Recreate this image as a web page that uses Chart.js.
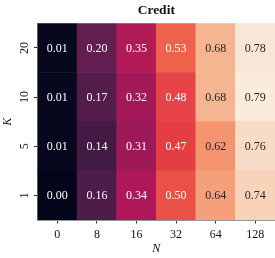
<!DOCTYPE html>
<html>
<head>
<meta charset="utf-8">
<script src="https://cdn.jsdelivr.net/npm/chart.js@4/dist/chart.umd.min.js"></script>
<style>
  html, body { margin: 0; padding: 0; background: #fff; }
  #wrap { width: 275px; height: 258px; }
</style>
</head>
<body>
<div id="wrap"><canvas id="myChart"></canvas></div>
<script>
// N on x, K on y (bottom row first)
const nLabels = ['0', '8', '16', '32', '64', '128'];
const kLabels = ['1', '5', '10', '20'];

const k1 = [0.00, 0.16, 0.34, 0.50, 0.64, 0.74];
const k5 = [0.01, 0.14, 0.31, 0.47, 0.62, 0.76];
const k10 = [0.01, 0.17, 0.32, 0.48, 0.68, 0.79];
const k20 = [0.01, 0.20, 0.35, 0.53, 0.68, 0.78];
const rows = [k1, k5, k10, k20];

const vmin = 0.00;
const vmax = 0.79;

// seaborn "rocket"
const rocket = [
    [0, [3, 5, 26]],
    [1 / 7, [0x35, 0x19, 0x3e]],
    [2 / 7, [0x70, 0x1f, 0x57]],
    [3 / 7, [0xad, 0x17, 0x59]],
    [4 / 7, [0xe1, 0x33, 0x42]],
    [5 / 7, [0xf3, 0x76, 0x51]],
    [6 / 7, [0xf6, 0xb4, 0x8f]],
    [1, [0xfa, 0xeb, 0xdd]],
];

function rocketRgb(v) {
    let t = (v - vmin) / (vmax - vmin);
    t = Math.max(0, Math.min(1, t));
    for (let i = 1; i < rocket.length; i++) {
        if (t <= rocket[i][0]) {
            const [t0, c0] = rocket[i - 1];
            const [t1, c1] = rocket[i];
            const f = (t - t0) / (t1 - t0);
            return c0.map((c, j) => Math.round(c + (c1[j] - c) * f));
        }
    }
    return rocket[rocket.length - 1][1];
}

function lum(rgb) {
    const l = rgb.map(c => {
        c = c / 255;
        return c <= 0.03928 ? c / 12.92 : Math.pow((c + 0.055) / 1.055, 2.4);
    });
    return 0.2126 * l[0] + 0.7152 * l[1] + 0.0722 * l[2];
}

const serif = "'Liberation Serif', 'DejaVu Serif', serif";

const annotate = {
    id: 'annotate',
    afterDatasetsDraw(chart) {
        const ctx = chart.ctx;
        ctx.save();
        ctx.font = '12px ' + serif;
        ctx.textAlign = 'center';
        ctx.textBaseline = 'middle';
        chart.data.datasets.forEach((ds, r) => {
            const meta = chart.getDatasetMeta(r);
            meta.data.forEach((bar, i) => {
                const v = rows[r][i];
                ctx.fillStyle = lum(rocketRgb(v)) > 0.408 ? '#262626' : '#ffffff';
                ctx.fillText(v.toFixed(2), bar.x, (bar.y + bar.base) / 2 + 0.5);
            });
        });
        ctx.restore();
    }
};

const ctx = document.getElementById('myChart');
new Chart(ctx, {
    type: 'bar',
    data: {
        labels: nLabels,
        datasets: rows.map((row, r) => ({
            label: 'K=' + kLabels[r],
            data: row.map(() => [r, r + 1]),
            backgroundColor: row.map(v => 'rgb(' + rocketRgb(v).join(',') + ')'),
            borderWidth: 0,
            barPercentage: 1,
            categoryPercentage: 1,
            grouped: false,
        })),
    },
    options: {
        responsive: true,
        maintainAspectRatio: false,
        animation: false,
        layout: { padding: 0 },
        plugins: {
            legend: { display: false },
            tooltip: { enabled: false },
            title: {
                display: true,
                text: 'Credit',
                fullSize: false,
                color: '#111',
                font: { family: serif, size: 13.5, weight: 'bold' },
                padding: { top: 2, bottom: 5.1 },
            },
        },
        scales: {
            x: {
                type: 'category',
                offset: true,
                z: 1,
                afterFit: (s) => { s.height = 38; },
                grid: {
                    display: true,
                    offset: false,
                    drawOnChartArea: false,
                    drawTicks: true,
                    tickLength: 3.5,
                    tickColor: '#333',
                },
                border: { display: true, color: '#999', width: 1 },
                ticks: {
                    color: '#111',
                    padding: 4,
                    maxRotation: 0,
                    font: { family: serif, size: 12 },
                },
                title: {
                    display: true,
                    text: 'N',
                    color: '#111',
                    font: { family: serif, size: 12, style: 'italic' },
                    padding: { top: 0, bottom: 1.5 },
                },
            },
            y: {
                type: 'linear',
                min: 0,
                max: 4,
                z: 1,
                afterFit: (s) => { s.width = 37.5; },
                afterBuildTicks: (s) => {
                    s.ticks = kLabels.map((k, i) => ({ value: i + 0.5 }));
                },
                grid: {
                    display: true,
                    drawOnChartArea: false,
                    drawTicks: true,
                    tickLength: 3.5,
                    tickColor: '#333',
                },
                border: { display: true, color: '#999', width: 1 },
                ticks: {
                    color: '#111',
                    padding: 3,
                    minRotation: 90,
                    maxRotation: 90,
                    crossAlign: 'center',
                    autoSkip: false,
                    font: { family: serif, size: 12 },
                    callback: (v) => kLabels[Math.floor(v)],
                },
                title: {
                    display: true,
                    text: 'K',
                    color: '#111',
                    font: { family: serif, size: 12, style: 'italic' },
                    padding: { top: 1, bottom: 0 },
                },
            },
        },
    },
    plugins: [annotate],
});
</script>
</body>
</html>
